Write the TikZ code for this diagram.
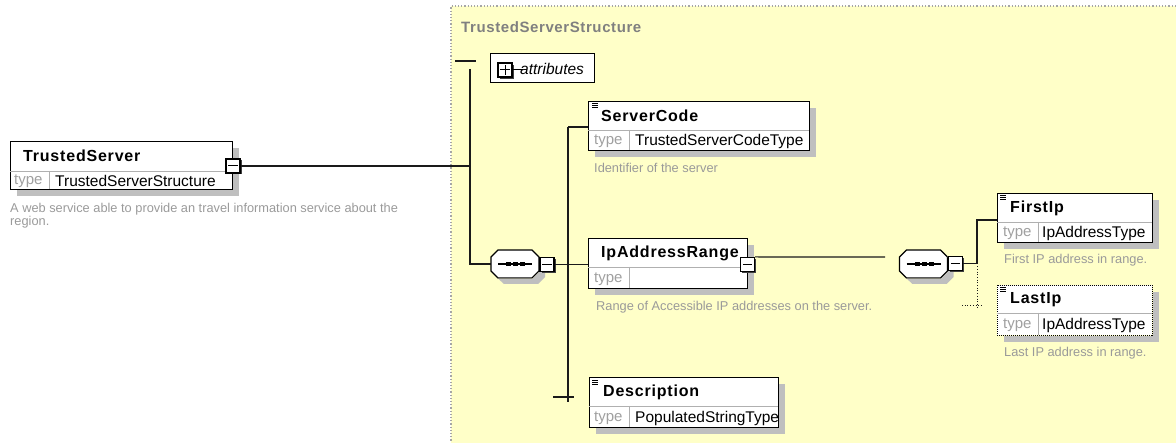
\documentclass[tikz,border=0pt]{standalone}
\usepackage{fontspec}
\setmainfont{Liberation Sans}
\usetikzlibrary{calc}
\definecolor{panelc}{HTML}{FFFFC8}
\definecolor{boxshade}{rgb}{0.75,0.75,0.75}
\definecolor{typec}{HTML}{A0A0A0}
\definecolor{descc}{HTML}{9A9A9A}
\definecolor{titlec}{HTML}{808080}
\definecolor{linec}{HTML}{1A1A1A}
\definecolor{divc}{HTML}{B0B0B0}
\definecolor{minshade}{rgb}{0.25,0.25,0.25}
\tikzset{
  x=1pt, y=-1pt,
  elembox/.style={rectangle, draw=black, line width=1.3pt, fill=white, anchor=north west, inner sep=0pt},
  optbox/.style={elembox, dash pattern=on 1pt off 1pt, line width=0.9pt},
  shadefill/.style={fill=boxshade, draw=none},
  mshadefill/.style={fill=minshade, draw=none},
  ttl/.style={font=\fontsize{16}{18}\selectfont\bfseries\addfontfeature{LetterSpace=5}, anchor=west, inner sep=0pt},
  typelbl/.style={font=\fontsize{15}{17}\selectfont, text=typec, anchor=west, inner sep=0pt},
  typeval/.style={font=\fontsize{15.5}{17}\selectfont, anchor=west, inner sep=0pt},
  desc/.style={font=\fontsize{12.8}{14}\selectfont, text=descc, anchor=west, inner sep=0pt},
  conn/.style={draw=linec, line width=1.2pt},
  vconn/.style={draw=linec, line width=1.6pt},
  dotconn/.style={draw=linec, line width=0.7pt, dotted},
  divider/.style={draw=divc, line width=0.9pt},
  minusbox/.style={rectangle, draw=black, fill=white, minimum size=14pt, inner sep=0pt, line width=1.2pt},
  seqanchor/.style={rectangle, inner sep=0pt, minimum width=48pt, minimum height=28pt},
  seqshape/.style={draw=black, line width=1.3pt, fill=white},
  attrbox/.style={rectangle, draw=black, line width=1.2pt, fill=white, anchor=north west, inner sep=0pt},
  paneltitle/.style={font=\fontsize{15}{17}\selectfont\bfseries\addfontfeature{LetterSpace=4}, text=titlec, anchor=west, inner sep=0pt},
}
\newcommand\minussign[1]{\draw[line width=1pt] ($(#1.west)+(3,0)$) -- ($(#1.east)+(-3,0)$);}
\newcommand\plussign[1]{\minussign{#1}\draw[line width=1pt] ($(#1.north)+(0,3)$) -- ($(#1.south)+(0,-3)$);}
\newcommand\docicon[2]{%
  \draw[line width=0.6pt] (#1,#2) -- (#1+6,#2);
  \draw[line width=0.6pt] (#1,#2+2) -- (#1+6,#2+2);
  \draw[line width=0.6pt] (#1,#2+4) -- (#1+6,#2+4);
}
\begin{document}
\begin{tikzpicture}
\useasboundingbox (0,0) rectangle (1176,443);
% panel
\fill[panelc] (451,6) rectangle (1180,447);
\draw[gray!70, dotted, line width=1.2pt] (451,447) -- (451,6) -- (1180,6);
\node[paneltitle] (ptitle) at (461,27) {TrustedServerStructure};

% TrustedServer
\node[elembox, minimum width=222pt, minimum height=48pt] (ts) at (10,141) {};
\draw[divider] (10,171) -- (232,171);
\draw[divider] (49,171) -- (49,189);
\node[ttl] (tst) at (23,156) {TrustedServer};
\node[typelbl] (tsl) at (14,181) {type};
\node[typeval] (tsv) at (55,181) {TrustedServerStructure};
\node[desc] (tsd1) at (10,209) {A web service able to provide an travel information service about the};
\node[desc] (tsd2) at (10,222) {region.};

% main sequence connectors
\coordinate (seqtop) at (470,69);
\coordinate (seqjoin) at (470,166);
\coordinate (attrtick1) at (455,61);
\coordinate (attrtick2) at (476,61);
\draw[conn] (attrtick1) -- (attrtick2);

% attributes
\node[attrbox, minimum width=104pt, minimum height=29pt] (attr) at (490,53) {};
\node[font=\fontsize{15.5}{17}\selectfont\itshape, anchor=west, inner sep=0pt] (attrt) at (520,69) {attributes};

% left sequence
\draw[seqshape] (498,250) -- (532,250) -- (539,257) -- (539,271) -- (532,278) -- (498,278) -- (491,271) -- (491,257) -- cycle;
\node[seqanchor] (seq1) at (515,264) {};
\draw[line width=1.2pt] ($(seq1.center)+(-17,0)$) -- ($(seq1.center)+(17,0)$);
\fill ($(seq1.center)+(-9,-2)$) rectangle ++(5,4);
\fill ($(seq1.center)+(-2,-2)$) rectangle ++(5,4);
\fill ($(seq1.center)+(5,-2)$) rectangle ++(5,4);
\draw[vconn] (seqtop) -- (470,264) -- (seq1.west);

% ServerCode
\node[elembox, minimum width=221pt, minimum height=49pt] (sc) at (588,101) {};
\draw[divider] (588,130) -- (809,130);
\draw[divider] (629,130) -- (629,150);
\docicon{592}{103}
\node[ttl] (sct) at (601,116) {ServerCode};
\node[typelbl] (scl) at (594,141) {type};
\node[typeval] (scv) at (635,141) {TrustedServerCodeType};
\node[desc] (scd) at (594,168) {Identifier of the server};

% IpAddressRange
\node[elembox, minimum width=159pt, minimum height=50pt] (ip) at (588,238) {};
\draw[divider] (588,267) -- (747,267);
\draw[divider] (629,267) -- (629,288);
\node[ttl] (ipt) at (601,253) {IpAddressRange};
\node[typelbl] (ipl) at (594,279) {type};
\node[desc] (ipd) at (596,307) {Range of Accessible IP addresses on the server.};

% Description
\node[elembox, minimum width=189pt, minimum height=50pt] (de) at (589,377) {};
\draw[divider] (589,406) -- (778,406);
\draw[divider] (629,406) -- (629,427);
\docicon{592}{380}
\node[ttl] (det) at (603,392) {Description};
\node[typelbl] (del) at (594,418) {type};
\node[typeval] (dev) at (635,418) {PopulatedStringType};

% second-level connectors
\coordinate (v2top) at (568,127);
\coordinate (v2bot) at (568,402);
\coordinate (decross1) at (553,397);
\coordinate (decross2) at (574,397);
\draw[vconn] (v2top) -- (v2bot);
\draw[conn] (v2top) -- (sc.west |- v2top);
\draw[conn] (decross1) -- (decross2);

% right sequence
\draw[seqshape] (906.5,250) -- (940.5,250) -- (947.5,257) -- (947.5,271) -- (940.5,278) -- (906.5,278) -- (899.5,271) -- (899.5,257) -- cycle;
\node[seqanchor] (seq2) at (923.5,264) {};
\draw[line width=1.2pt] ($(seq2.center)+(-17,0)$) -- ($(seq2.center)+(17,0)$);
\fill ($(seq2.center)+(-9,-2)$) rectangle ++(5,4);
\fill ($(seq2.center)+(-2,-2)$) rectangle ++(5,4);
\fill ($(seq2.center)+(5,-2)$) rectangle ++(5,4);

% FirstIp
\node[elembox, minimum width=155pt, minimum height=49pt] (fi) at (997,193) {};
\draw[divider] (997,222) -- (1152,222);
\draw[divider] (1038,222) -- (1038,242);
\docicon{1000}{195}
\node[ttl] (fit) at (1010,208) {FirstIp};
\node[typelbl] (fil) at (1003,233) {type};
\node[typeval] (fiv) at (1042,233) {IpAddressType};
\node[desc] (fid) at (1004,260) {First IP address in range.};

% LastIp
\node[optbox, minimum width=155pt, minimum height=50pt] (li) at (997,285) {};
\draw[divider] (997,313) -- (1152,313);
\draw[divider] (1038,313) -- (1038,335);
\docicon{1000}{287}
\node[ttl] (lit) at (1010,300) {LastIp};
\node[typelbl] (lil) at (1003,325) {type};
\node[typeval] (liv) at (1042,325) {IpAddressType};
\node[desc] (lid) at (1004,353) {Last IP address in range.};

% ---- shadows (visible strips only), drawn late ----
\path[shadefill] (232.7,148) rectangle (239,196);
\path[shadefill] (17,189.7) rectangle (232.7,196);
\path[shadefill] (809.7,108) rectangle (816,157);
\path[shadefill] (595,150.7) rectangle (809.7,157);
\path[shadefill] (747.7,245) rectangle (754,295);
\path[shadefill] (595,288.7) rectangle (747.7,295);
\path[shadefill] (778.7,384) rectangle (785,434);
\path[shadefill] (596,427.7) rectangle (778.7,434);
\path[shadefill] (1152.7,200) rectangle (1159,249);
\path[shadefill] (1004,242.7) rectangle (1152.7,249);
\path[shadefill] (1152.7,292) rectangle (1159,342);
\path[shadefill] (1004,335.7) rectangle (1152.7,342);
\path[shadefill] (497,277.6) -- (504,284) -- (538,284) -- (545,277) -- (545,263) -- (538.6,256.6) -- (539.7,257) -- (539.7,271.3) -- (532.3,278.7) -- (498,278.7) -- cycle;
\path[shadefill] (905.5,277.6) -- (912.5,284) -- (946.5,284) -- (953.5,277) -- (953.5,263) -- (947.1,256.6) -- (948.2,257) -- (948.2,271.3) -- (940.8,278.7) -- (906.5,278.7) -- cycle;
\path[mshadefill] (227.6,159.6) rectangle (241.6,173.6);
\path[mshadefill] (499.6,64.6) rectangle (513.6,78.6);
\path[mshadefill] (541.6,259.1) rectangle (555.6,273.1);
\path[mshadefill] (742.1,259.1) rectangle (756.1,273.1);
\path[mshadefill] (950.1,258.1) rectangle (964.1,272.1);

% ---- expand/collapse boxes and their connectors ----
\node[minusbox] (tsm) at (233,166) {};
\minussign{tsm}
\draw[conn] (tsm.east) -- (seqjoin);

\node[minusbox] (attrp) at (505,70) {};
\plussign{attrp}
\coordinate (attrl) at (523,70);
\draw[line width=1pt] (attrp.east) -- (attrl);

\node[minusbox] (seq1m) at (547,264.5) {};
\minussign{seq1m}
\draw[conn] (seq1m.east) -- (ip.west |- seq1m.east);

\node[minusbox] (ipm) at (747.5,264.5) {};
\minussign{ipm}
\coordinate (ipend) at (885,257);
\draw[conn] (ipm.north east) -- (ipend);

\node[minusbox] (seq2m) at (955.5,263.5) {};
\minussign{seq2m}
\coordinate (rj) at (977,263.5);
\coordinate (rjbot) at (977,308);
\coordinate (lcross1) at (962,305);
\coordinate (lcross2) at (982,305);
\draw[conn] (seq2m.east) -- (rj) -- (977,220) -- (fi.west |- 977,220);
\draw[dotconn] (rj) -- (rjbot);
\draw[dotconn] (lcross1) -- (lcross2);
\end{tikzpicture}
\end{document}
